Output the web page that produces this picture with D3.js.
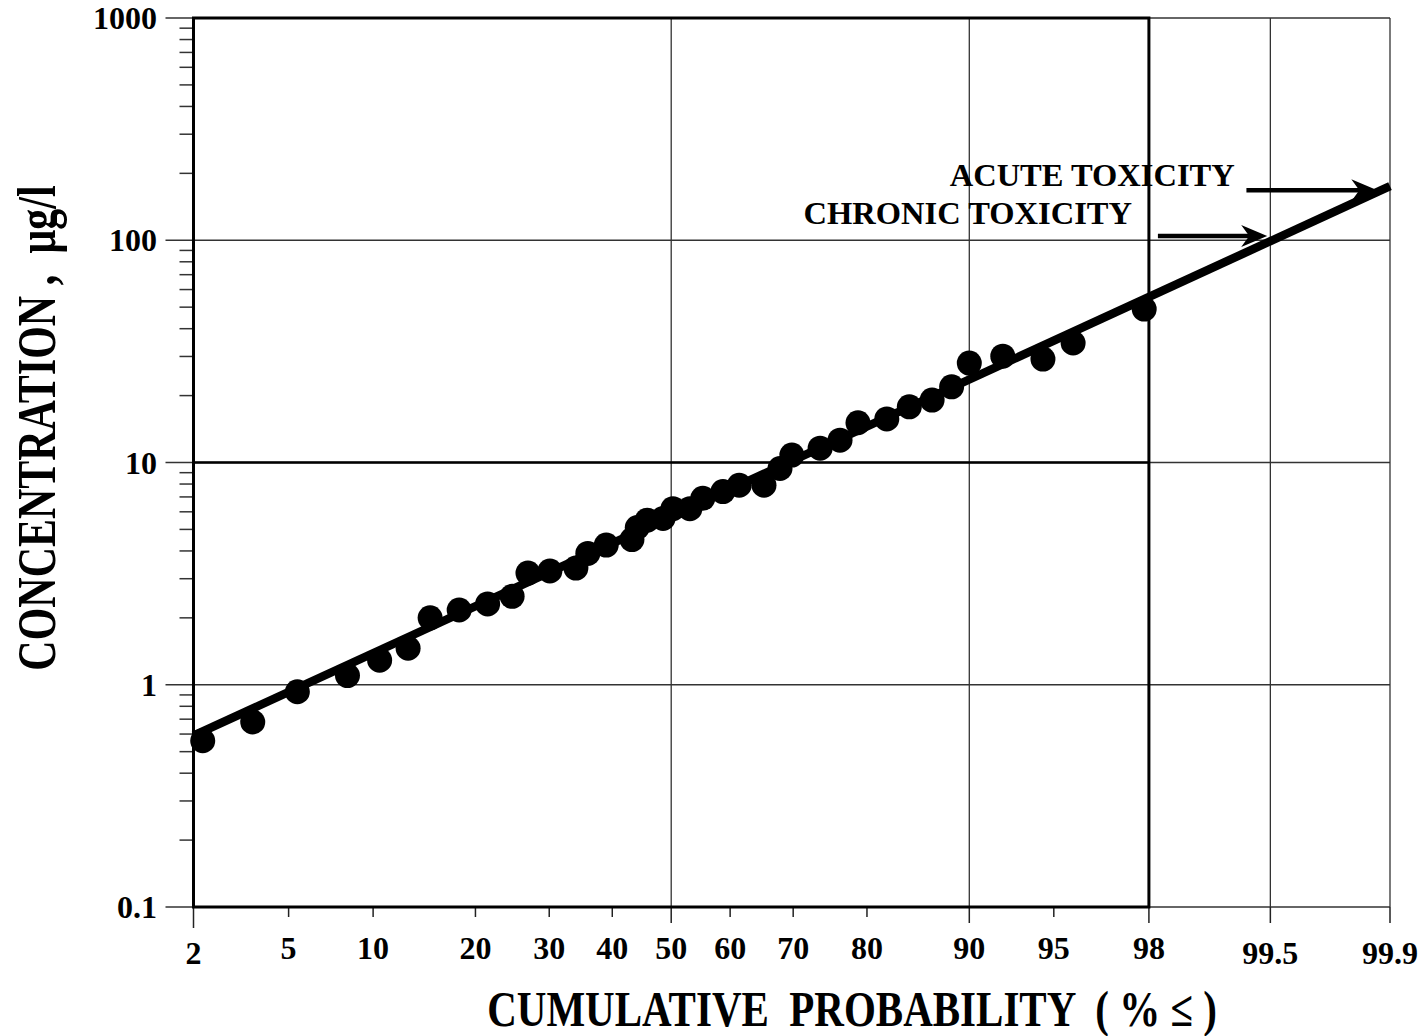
<!DOCTYPE html>
<html>
<head>
<meta charset="utf-8">
<script src="https://cdn.jsdelivr.net/npm/d3@7"></script>
<style>
  body { margin: 0; background: #fff; }
  text { font-family: 'Liberation Serif', 'Times New Roman', serif; font-weight: bold; fill: #000; }
</style>
</head>
<body>
<div id="chart"></div>
<script>
const probability = [2.2, 3.6, 5.4, 8.2, 10.5, 12.9, 15.0, 18.1, 21.5, 24.7, 26.9, 30.1, 34.1, 36.0, 39.0, 43.3, 44.2, 45.9, 48.6, 50.3,
    53.2, 55.4, 58.8, 61.5, 65.5, 68.0, 69.8, 73.9, 76.6, 78.9, 82.3, 84.7, 86.9, 88.6, 90.0, 92.3, 94.5, 95.8, 97.9];
const concentration = [0.56, 0.68, 0.93, 1.1, 1.29, 1.46, 2.0, 2.17, 2.31, 2.5, 3.18, 3.25, 3.35, 3.9, 4.25, 4.5, 5.1, 5.5, 5.6, 6.2,
    6.2, 6.9, 7.4, 7.9, 7.9, 9.4, 10.8, 11.6, 12.6, 15.1, 15.7, 17.8, 19.1, 21.9, 28.0, 30.1, 29.2, 34.5, 49];

// fitted lognormal line (end points)
const fitP = [2, 99.9];
const fitV = [0.59, 175];

// axes
const xTicks = [2, 5, 10, 20, 30, 40, 50, 60, 70, 80, 90, 95, 98, 99.5, 99.9];
const xGrid = [50, 90, 99.5, 99.9];
const yTicks = [0.1, 1, 10, 100, 1000];
const yTickLabels = ['0.1', '1', '10', '100', '1000'];

// toxicity annotations
const annoLabels = ['ACUTE TOXICITY', 'CHRONIC TOXICITY'];
const annoFromP = [99.33, 98.18];
const annoToP = [99.88, 99.48];
const annoV = [168, 104.5];
const annoTextP = [99.23, 97.62];
const annoTextV = [175, 118];

const W = 1427, H = 1036;

// inverse of the standard normal cdf (Acklam), for the probability axis
function probit(p) {
    const a = [-3.969683028665376e+01, 2.209460984245205e+02, -2.759285104469687e+02, 1.383577518672690e+02, -3.066479806614716e+01, 2.506628277459239e+00];
    const b = [-5.447609879822406e+01, 1.615858368580409e+02, -1.556989798598866e+02, 6.680131188771972e+01, -1.328068155288572e+01];
    const c = [-7.784894002430293e-03, -3.223964580411365e-01, -2.400758277161838e+00, -2.549732539343734e+00, 4.374664141464968e+00, 2.938163982698783e+00];
    const d = [7.784695709041462e-03, 3.224671290700398e-01, 2.445134137142996e+00, 3.754408661907416e+00];
    const pl = 0.02425;
    let q, r;
    if (p < pl) {
        q = Math.sqrt(-2 * Math.log(p));
        return (((((c[0] * q + c[1]) * q + c[2]) * q + c[3]) * q + c[4]) * q + c[5]) / ((((d[0] * q + d[1]) * q + d[2]) * q + d[3]) * q + 1);
    }
    if (p > 1 - pl) {
        q = Math.sqrt(-2 * Math.log(1 - p));
        return -(((((c[0] * q + c[1]) * q + c[2]) * q + c[3]) * q + c[4]) * q + c[5]) / ((((d[0] * q + d[1]) * q + d[2]) * q + d[3]) * q + 1);
    }
    q = p - 0.5; r = q * q;
    return (((((a[0] * r + a[1]) * r + a[2]) * r + a[3]) * r + a[4]) * r + a[5]) * q / (((((b[0] * r + b[1]) * r + b[2]) * r + b[3]) * r + b[4]) * r + 1);
}

const svg = d3.select('#chart').append('svg')
    .attr('width', W)
    .attr('height', H);

const zScale = d3.scaleLinear()
    .domain([probit(0.02), probit(0.999)])
    .range([193.5, 1390]);
const xScale = p => zScale(probit(p / 100));

const yScale = d3.scaleLog()
    .domain([0.1, 1000])
    .range([907, 18]);

const x0 = xScale(2), x1 = xScale(98), xEnd = xScale(99.9);
const yTop = yScale(1000), yBot = yScale(0.1);

// thin grid lines (horizontal decades, vertical selected probabilities)
const grid = svg.append('g').attr('stroke', '#333').attr('stroke-width', 1.3);
grid.selectAll('.hg')
    .data(yTicks)
    .join('line')
    .attr('x1', x0 - 28).attr('x2', xEnd)
    .attr('y1', d => yScale(d)).attr('y2', d => yScale(d));
grid.selectAll('.vg')
    .data(xGrid)
    .join('line')
    .attr('x1', d => xScale(d)).attr('x2', d => xScale(d))
    .attr('y1', yTop).attr('y2', yBot);

// x tick marks below the axis
const bigTicks = [2, 50, 90, 98, 99.5, 99.9];
svg.append('g')
    .attr('stroke', '#222').attr('stroke-width', 1.5)
    .selectAll('line')
    .data(xTicks)
    .join('line')
    .attr('x1', d => xScale(d)).attr('x2', d => xScale(d))
    .attr('y1', yBot)
    .attr('y2', d => yBot + (d === 2 ? 21 : bigTicks.includes(d) ? 16 : 10));

// minor log ticks on the y axis
const minorY = yScale.ticks().filter(d => !yTicks.some(t => Math.abs(t - d) < 1e-9));
svg.append('g')
    .attr('stroke', '#333').attr('stroke-width', 1.5)
    .selectAll('line')
    .data(minorY)
    .join('line')
    .attr('x1', x0 - 14).attr('x2', x0)
    .attr('y1', d => yScale(d)).attr('y2', d => yScale(d));

// heavy frame 2..98 % and the 10 ug/l line
svg.append('rect')
    .attr('x', x0).attr('y', yTop)
    .attr('width', x1 - x0).attr('height', yBot - yTop)
    .attr('fill', 'none').attr('stroke', '#000').attr('stroke-width', 3);
svg.append('line')
    .attr('x1', x0).attr('x2', x1)
    .attr('y1', yScale(10)).attr('y2', yScale(10))
    .attr('stroke', '#000').attr('stroke-width', 2.6);

// tick labels
svg.append('g')
    .selectAll('text')
    .data(xTicks)
    .join('text')
    .attr('x', d => xScale(d))
    .attr('y', d => (d === 2 || d > 99) ? 964 : 959)
    .attr('text-anchor', 'middle')
    .style('font-size', '32px')
    .text(d => d);

svg.append('g')
    .selectAll('text')
    .data(yTicks)
    .join('text')
    .attr('x', 157)
    .attr('y', d => yScale(d))
    .attr('dy', '0.35em')
    .attr('text-anchor', 'end')
    .style('font-size', '32px')
    .text((d, i) => yTickLabels[i]);

// fitted line
const fitData = fitP.map((p, i) => ({ p: p, v: fitV[i] }));
svg.append('path')
    .datum(fitData)
    .attr('d', d3.line().x(d => xScale(d.p)).y(d => yScale(d.v)))
    .attr('fill', 'none').attr('stroke', '#000').attr('stroke-width', 8.5);

// observations
svg.append('g')
    .selectAll('circle')
    .data(probability.map((p, i) => ({ p: p, v: concentration[i] })))
    .join('circle')
    .attr('cx', d => xScale(d.p))
    .attr('cy', d => yScale(d.v))
    .attr('r', 12.5)
    .attr('fill', '#000');

// annotations with arrows
annoLabels.forEach((label, i) => {
    const ay = yScale(annoV[i]);
    const ax0 = xScale(annoFromP[i]), ax1 = xScale(annoToP[i]);
    svg.append('line')
        .attr('x1', ax0).attr('x2', ax1 - 14)
        .attr('y1', ay).attr('y2', ay)
        .attr('stroke', '#000').attr('stroke-width', 4.5);
    svg.append('path')
        .attr('transform', `translate(${ax1}, ${ay})`)
        .attr('d', 'M0,0 L-26,-11 L-18,0 L-26,11 Z')
        .attr('fill', '#000');
    svg.append('text')
        .attr('x', xScale(annoTextP[i]))
        .attr('y', yScale(annoTextV[i]))
        .attr('text-anchor', 'end')
        .style('font-size', '32.5px')
        .text(label);
});

// axis titles (tall, narrow lettering as in the original)
svg.append('text')
    .attr('transform', 'translate(55, 428) rotate(-90) scale(1, 1.33)')
    .attr('text-anchor', 'middle')
    .style('font-size', '42px')
    .style('white-space', 'pre')
    .text('CONCENTRATION ,  µg/l');

svg.append('text')
    .attr('transform', 'translate(852, 1026) scale(1, 1.22)')
    .attr('text-anchor', 'middle')
    .style('font-size', '41px')
    .style('white-space', 'pre')
    .text('CUMULATIVE  PROBABILITY  ( % ≤ )');
</script>
</body>
</html>
